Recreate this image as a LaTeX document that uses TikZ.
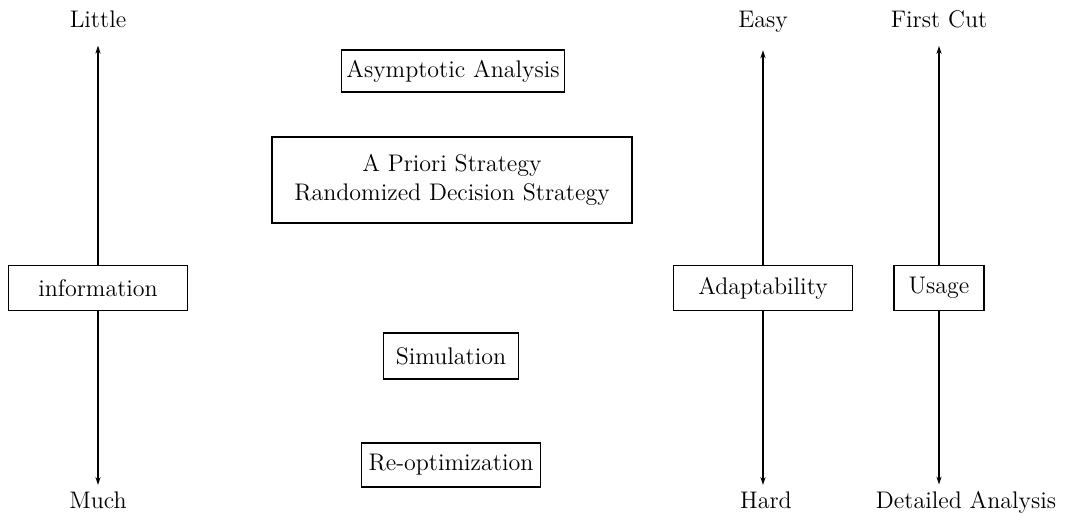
\documentclass[tikz,border=0pt]{standalone}
\usetikzlibrary{arrows.meta}

\begin{document}
\begin{tikzpicture}[
  x=0.5pt, y=-0.5pt, font=\fontsize{12}{14.5}\selectfont,
  box/.style={draw, fill=white, line width=0.6pt, inner sep=1pt, align=center},
  endlabel/.style={anchor=base, inner sep=2pt},
  axis/.style={line width=0.6pt, -{Stealth[length=4pt,width=2.6pt]}, shorten >=7pt},
  axisdown/.style={axis, shorten >=1pt}
]
\useasboundingbox (0,0) rectangle (1069,516);

\node[endlabel] (little) at (98,27) {Little};
\node[endlabel] (much) at (98,508) {Much};
\node[endlabel] (easy) at (763,27) {Easy};
\node[endlabel] (hard) at (766,508) {Hard};
\node[endlabel] (firstcut) at (939,27) {First Cut};
\node[endlabel] (detailed) at (966,508) {Detailed Analysis};

% sizes below are in pt (half a pixel of the sketch grid)
\node[box, minimum width=89.5pt, minimum height=22.5pt] (info) at (98,288) {information};
\node[box, minimum width=89.5pt, minimum height=22.5pt] (adapt) at (763,288) {Adaptability};
\node[box, minimum width=45pt, minimum height=22.5pt] (usage) at (939,288) {Usage};

\draw[axis] (info) -- (info |- little.south);
\draw[axisdown] (info) -- (info |- much.north);
\draw[axis] (adapt) -- (adapt |- easy.south);
\draw[axisdown] (adapt) -- (adapt |- hard.north);
\draw[axis] (usage) -- (usage |- firstcut.south);
\draw[axisdown] (usage) -- (usage |- detailed.north);

\node[box, minimum width=111.5pt, minimum height=21pt] (asym) at (453,71) {Asymptotic Analysis};
\node[box, minimum width=180pt, minimum height=43pt] (apriori) at (452,180)
  {A Priori Strategy\\Randomized Decision Strategy};
\node[box, minimum width=67.5pt, minimum height=23pt] (sim) at (451,356) {Simulation};
\node[box, minimum width=89.5pt, minimum height=22pt] (reopt) at (451,465) {Re-optimization};
\end{tikzpicture}
\end{document}
